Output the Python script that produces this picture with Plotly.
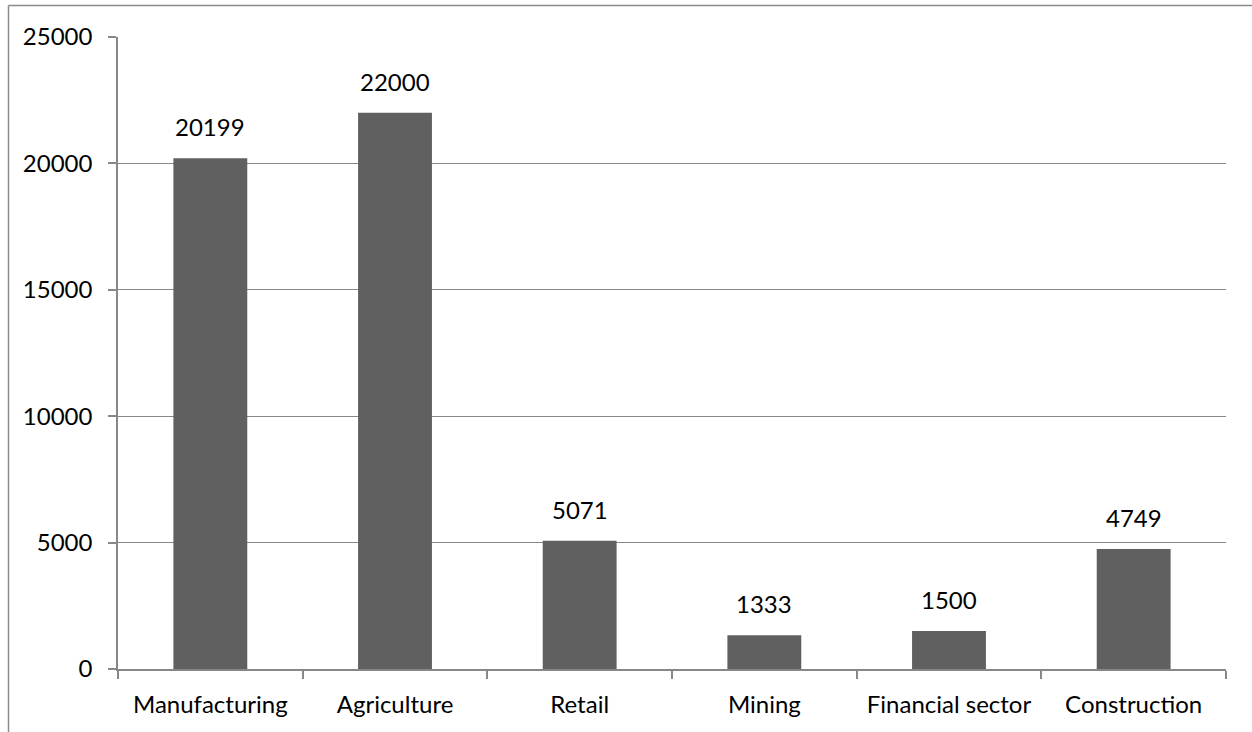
import plotly.graph_objects as go

sectors = ["Manufacturing", "Agriculture", "Retail", "Mining", "Financial sector", "Construction"]
values = [20199, 22000, 5071, 1333, 1500, 4749]
y_ticks = [0, 5000, 10000, 15000, 20000, 25000]

W, H = 1252, 732
L, R, T, B = 118, 26, 37, 63
pw, ph = W - L - R, H - T - B

def px_x(x):
    return (x - L) / pw

def px_y(y):
    return (H - B - y) / ph

font_family = "Lato, Calibri, Carlito, sans-serif"
font_size = 24
axis_grey = "#878787"

fig = go.Figure(
    go.Bar(
        x=sectors,
        y=values,
        marker=dict(color="#606060", line=dict(width=0)),
        hoverinfo="x+y",
    )
)

for s, v in zip(sectors, values):
    fig.add_annotation(
        x=s, y=v, text=str(v), showarrow=False,
        yanchor="bottom", yshift=15,
        font=dict(family=font_family, size=font_size, color="#000000"),
    )

# chart frame (left and top edges)
fig.add_shape(type="line", xref="paper", yref="paper",
              x0=px_x(8.5), x1=px_x(W + 5), y0=px_y(5.5), y1=px_y(5.5),
              line=dict(color="#8a8a8a", width=1.5))
fig.add_shape(type="line", xref="paper", yref="paper",
              x0=px_x(8.5), x1=px_x(8.5), y0=px_y(5.5), y1=px_y(H + 5),
              line=dict(color="#8a8a8a", width=1.5))

fig.update_layout(
    width=W, height=H,
    margin=dict(l=L, r=R, t=T, b=B, pad=0),
    paper_bgcolor="white", plot_bgcolor="white",
    bargap=0.6,
    showlegend=False,
    font=dict(family=font_family, size=font_size, color="#000000"),
    xaxis=dict(
        showline=True, linecolor=axis_grey, linewidth=1.5,
        ticks="outside", tickson="boundaries", ticklen=8,
        tickcolor=axis_grey, tickwidth=1.5,
        showgrid=False, fixedrange=True,
        ticklabelstandoff=13,
        tickfont=dict(family=font_family, size=font_size),
    ),
    yaxis=dict(
        range=[0, 25000], tickvals=y_ticks, tickformat="d",
        showline=True, linecolor=axis_grey, linewidth=1.5,
        ticks="outside", ticklen=8, tickcolor=axis_grey, tickwidth=1.5,
        showgrid=True, gridcolor=axis_grey, gridwidth=1.2,
        zeroline=False, fixedrange=True,
        ticklabelstandoff=11,
        tickfont=dict(family=font_family, size=font_size),
    ),
)

fig.write_html("out.html")
